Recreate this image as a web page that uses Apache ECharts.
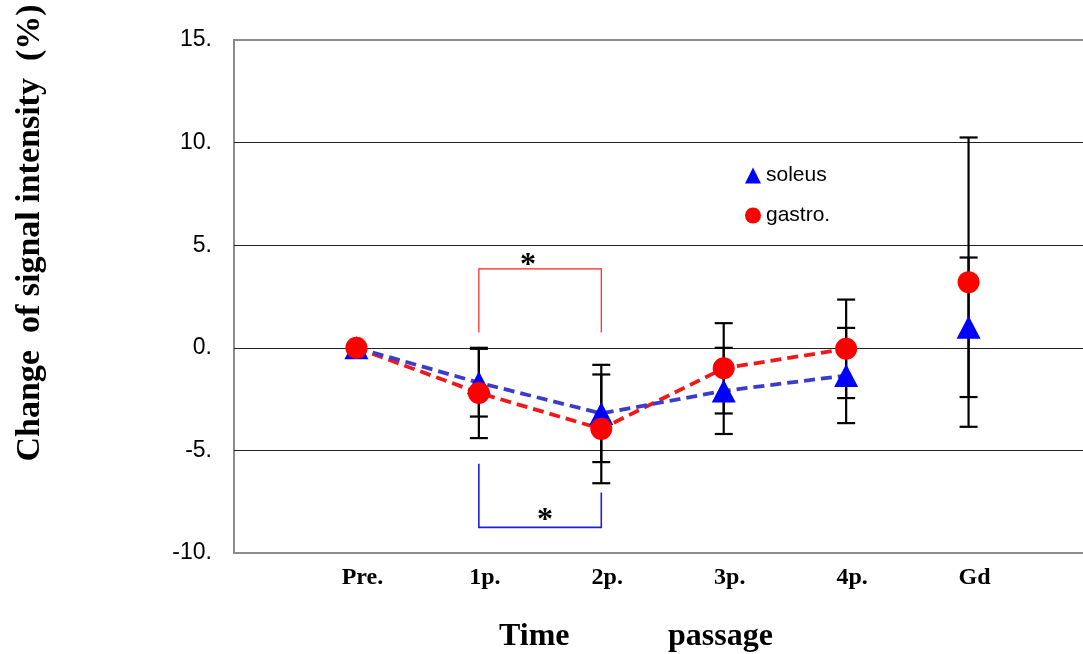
<!DOCTYPE html>
<html><head><meta charset="utf-8">
<script src="https://cdn.jsdelivr.net/npm/echarts@6/dist/echarts.min.js"></script>
<style>html,body{margin:0;padding:0;background:#fff}#c{width:1083px;height:654px}</style>
</head><body><div id="c"></div>
<script>
const categories = ['Pre.', '1p.', '2p.', '3p.', '4p.', 'Gd'];
const yTickLabels = ['-10.', '-5.', '0.', '5.', '10.', '15.'];
const soleusMean = [0, -1.7, -3.2, -2.1, -1.35, 1.0];
const soleusSD   = [0, 1.65, 2.37, 2.1, 2.32, 3.4];
const gastroMean = [0, -2.2, -3.95, -1.0, -0.05, 3.2];
const gastroSD   = [0, 2.2, 2.65, 2.2, 2.4, 7.05];
const linkedCount = 5; // Gd is not joined by the dashed lines
// significance brackets: [fromCat, toCat, barY, leftLegEnd, rightLegEnd, starY]
const bracketRed  = ['1p.', '2p.', 3.85, 0.75, 0.75, 4.4];
const bracketBlue = ['1p.', '2p.', -8.75, -5.65, -7.05, -8.05];

const xCats = [''].concat(categories, ['']);
const SERIF = '"Liberation Serif","Times New Roman",serif';
const SANS = '"Liberation Sans",Arial,sans-serif';

function errData(mean, sd) {
  return categories.map((c, i) => sd[i] > 0 ? [c, mean[i] - sd[i], mean[i] + sd[i]] : null).filter(Boolean);
}
const errAll = errData(soleusMean, soleusSD).concat(errData(gastroMean, gastroSD));

function renderErr(params, api) {
  const lo = api.coord([api.value(0), api.value(1)]);
  const hi = api.coord([api.value(0), api.value(2)]);
  const w = 9;
  const st = { stroke: '#000', lineWidth: 2.2 };
  return { type: 'group', children: [
    { type: 'line', shape: { x1: lo[0], y1: lo[1], x2: hi[0], y2: hi[1] }, style: st },
    { type: 'line', shape: { x1: lo[0] - w, y1: lo[1], x2: lo[0] + w, y2: lo[1] }, style: st },
    { type: 'line', shape: { x1: hi[0] - w, y1: hi[1], x2: hi[0] + w, y2: hi[1] }, style: st }
  ]};
}

function bracketRenderer(b, color, lw, starDx) {
  return function (params, api) {
    const i1 = xCats.indexOf(b[0]), i2 = xCats.indexOf(b[1]);
    const pBarL = api.coord([i1, b[2]]), pBarR = api.coord([i2, b[2]]);
    const pL = api.coord([i1, b[3]]), pR = api.coord([i2, b[4]]);
    const sy = api.coord([i1, b[5]])[1];
    const sx = (pBarL[0] + pBarR[0]) / 2;
    const st = { stroke: color, lineWidth: lw, fill: null };
    return { type: 'group', children: [
      { type: 'polyline', shape: { points: [pL, pBarL, pBarR, pR] }, style: st },
      { type: 'text', x: sx + starDx, y: sy + 8, style: { text: '*', font: 'bold 32px ' + SERIF, fill: '#000', align: 'center', verticalAlign: 'middle' } }
    ]};
  };
}

const chart = echarts.init(document.getElementById('c'), null, { renderer: 'canvas' });
chart.setOption({
  animation: false,
  backgroundColor: '#fff',
  grid: { left: 234, top: 40, height: 513, width: 857, outerBoundsMode: 'none', containLabel: false,
          show: true, borderColor: '#8c8c8c', borderWidth: 2, backgroundColor: 'transparent' },
  xAxis: {
    type: 'category', data: xCats, boundaryGap: false,
    axisLine: { show: false }, axisTick: { show: false }, splitLine: { show: false },
    axisLabel: { interval: 0, color: '#000', fontFamily: SERIF, fontWeight: 'bold', fontSize: 24, margin: 13, padding: [0, 0, 0, 12] }
  },
  yAxis: {
    type: 'value', min: -10, max: 15, interval: 5,
    axisLine: { show: false }, axisTick: { show: false },
    splitLine: { show: true, showMinLine: false, showMaxLine: false, lineStyle: { color: '#222', width: 1 } },
    axisLabel: { color: '#000', fontFamily: SANS, fontSize: 23, margin: 22, formatter: v => yTickLabels[Math.round((v + 10) / 5)] }
  },
  legend: {
    data: ['soleus', { name: 'gastro.', icon: 'circle' }], orient: 'vertical', left: 740, top: 160,
    itemWidth: 16, itemHeight: 16, itemGap: 19,
    textStyle: { color: '#000', fontFamily: SANS, fontSize: 21 }
  },
  graphic: [
    { type: 'text', x: 30, y: 233, rotation: Math.PI / 2, style: { text: 'Change  of signal intensity  (%)', font: 'bold 34px ' + SERIF, fill: '#000', align: 'center', verticalAlign: 'middle' } },
    { type: 'text', x: 499, y: 637, style: { text: 'Time', font: 'bold 32px ' + SERIF, fill: '#000', align: 'left', verticalAlign: 'middle' } },
    { type: 'text', x: 668, y: 637, style: { text: 'passage', font: 'bold 32px ' + SERIF, fill: '#000', align: 'left', verticalAlign: 'middle' } }
  ],
  series: [
    { type: 'custom', z: 2, renderItem: renderErr, data: errAll, encode: { x: 0, y: [1, 2] }, silent: true },
    { type: 'line', z: 3, symbol: 'none', data: gastroMean.slice(0, linkedCount).map((v, i) => [categories[i], v]),
      lineStyle: { color: '#f01818', width: 3.8, type: [11, 6] } },
    { type: 'line', z: 3, symbol: 'none', data: soleusMean.slice(0, linkedCount).map((v, i) => [categories[i], v]),
      lineStyle: { color: '#3c3ccc', width: 3.8, type: [11, 6] } },
    { name: 'soleus', type: 'scatter', z: 4, symbol: 'triangle', symbolSize: [24, 23],
      itemStyle: { color: '#0000ff', opacity: 1 }, data: soleusMean.map((v, i) => [categories[i], v]) },
    { name: 'gastro.', type: 'scatter', z: 5, symbol: 'circle', symbolSize: 22,
      itemStyle: { color: '#ff0000', opacity: 1 }, data: gastroMean.map((v, i) => [categories[i], v]) },
    { type: 'custom', z: 6, renderItem: bracketRenderer(bracketRed, '#ff2020', 1.2, -12), data: [[0, 0]], silent: true },
    { type: 'custom', z: 6, renderItem: bracketRenderer(bracketBlue, '#2020e0', 1.6, 5), data: [[0, 0]], silent: true }
  ]
});
</script></body></html>
